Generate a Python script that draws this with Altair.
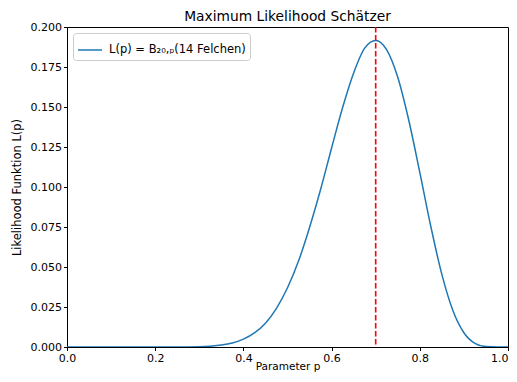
import altair as alt
import pandas as pd

# values
p_values = [0.0, 0.1, 0.2, 0.25, 0.3, 0.325, 0.35, 0.375, 0.4, 0.425, 0.45, 0.475,
            0.5, 0.525, 0.55, 0.575, 0.6, 0.625, 0.65, 0.675, 0.7, 0.725, 0.75,
            0.775, 0.8, 0.825, 0.85, 0.875, 0.9, 0.925, 0.95, 0.975, 1.0]
L_values = [0.0, 0.0, 0.0, 0.00002, 0.0002, 0.00054, 0.0012, 0.0025, 0.0049, 0.0088,
            0.0149, 0.0242, 0.0370, 0.0537, 0.0747, 0.0984, 0.1244, 0.1497, 0.1713,
            0.1868, 0.1916, 0.1857, 0.1686, 0.1417, 0.1091, 0.0753, 0.0454, 0.0228,
            0.0089, 0.0023, 0.0003, 0.00001, 0.0]
series_label = ["L(p) = B₂₀,ₚ(14 Felchen)"]
mle_p = [0.7]
chart_title = ["Maximum Likelihood Schätzer"]
x_ticks = [0.0, 0.2, 0.4, 0.6, 0.8, 1.0]
y_ticks = [0.0, 0.025, 0.05, 0.075, 0.1, 0.125, 0.15, 0.175, 0.2]

df = pd.DataFrame({"p": p_values, "L": L_values, "s": series_label * len(p_values)})
df_rule = pd.DataFrame({"p": mle_p})
df_title = pd.DataFrame({"t": chart_title})

FONT = "DejaVu Sans"
W, H = 441, 320

x_enc = alt.X("p:Q", scale=alt.Scale(domain=[0, 1], nice=False, zero=False),
              axis=alt.Axis(title="Parameter p", values=x_ticks, format=".1f",
                            labelFlush=False, titleY=14, titleBaseline="top",
                            labelAlign={"condition": {"test": "datum.value == 1", "value": "right"},
                                        "value": "center"}))

line = alt.Chart(df).mark_line(strokeWidth=1.5, interpolate="monotone", clip=True).encode(
    x=x_enc,
    y=alt.Y("L:Q", scale=alt.Scale(domain=[0, 0.2], nice=False),
            axis=alt.Axis(title="Likelihood Funktion L(p)", values=y_ticks, format=".3f",
                          labelFlush=False)),
    color=alt.Color("s:N", scale=alt.Scale(range=["#1f77b4"]),
                    legend=alt.Legend(title=None, orient="top-left", offset=6,
                                      symbolType="stroke", symbolSize=576,
                                      symbolStrokeWidth=1.5, labelFontSize=11.5,
                                      labelFont=FONT, labelColor="black",
                                      labelOffset=6,
                                      fillColor="white", strokeColor="#cccccc",
                                      padding=4, cornerRadius=3)),
)

rule = alt.Chart(df_rule).mark_rule(color="#ff0000", strokeWidth=1.6, strokeDash=[5.5, 2.5]).encode(
    x="p:Q"
)

title = alt.Chart(df_title).mark_text(
    font=FONT, fontSize=13.8, color="black", align="center", baseline="alphabetic"
).encode(x=alt.value(W / 2), y=alt.value(-6.5), text="t:N")

chart = alt.layer(line, rule, title).properties(
    width=W, height=H,
    autosize=alt.AutoSizeParams(type="none"),
    padding={"left": 59, "top": 19, "right": 1, "bottom": 27},
).configure_view(stroke="black", strokeWidth=1).configure_axis(
    grid=False, domainColor="black", tickColor="black", tickSize=3.5,
    labelFont=FONT, labelFontSize=11, labelColor="black",
    titleFont=FONT, titleFontSize=11.5, titleFontWeight="normal", titleColor="black",
    labelPadding=2,
).configure_axisX(titleFontSize=10.5).configure_axisY(titlePadding=8)

chart.save("out.html", embed_options={"renderer": "svg", "actions": False})
